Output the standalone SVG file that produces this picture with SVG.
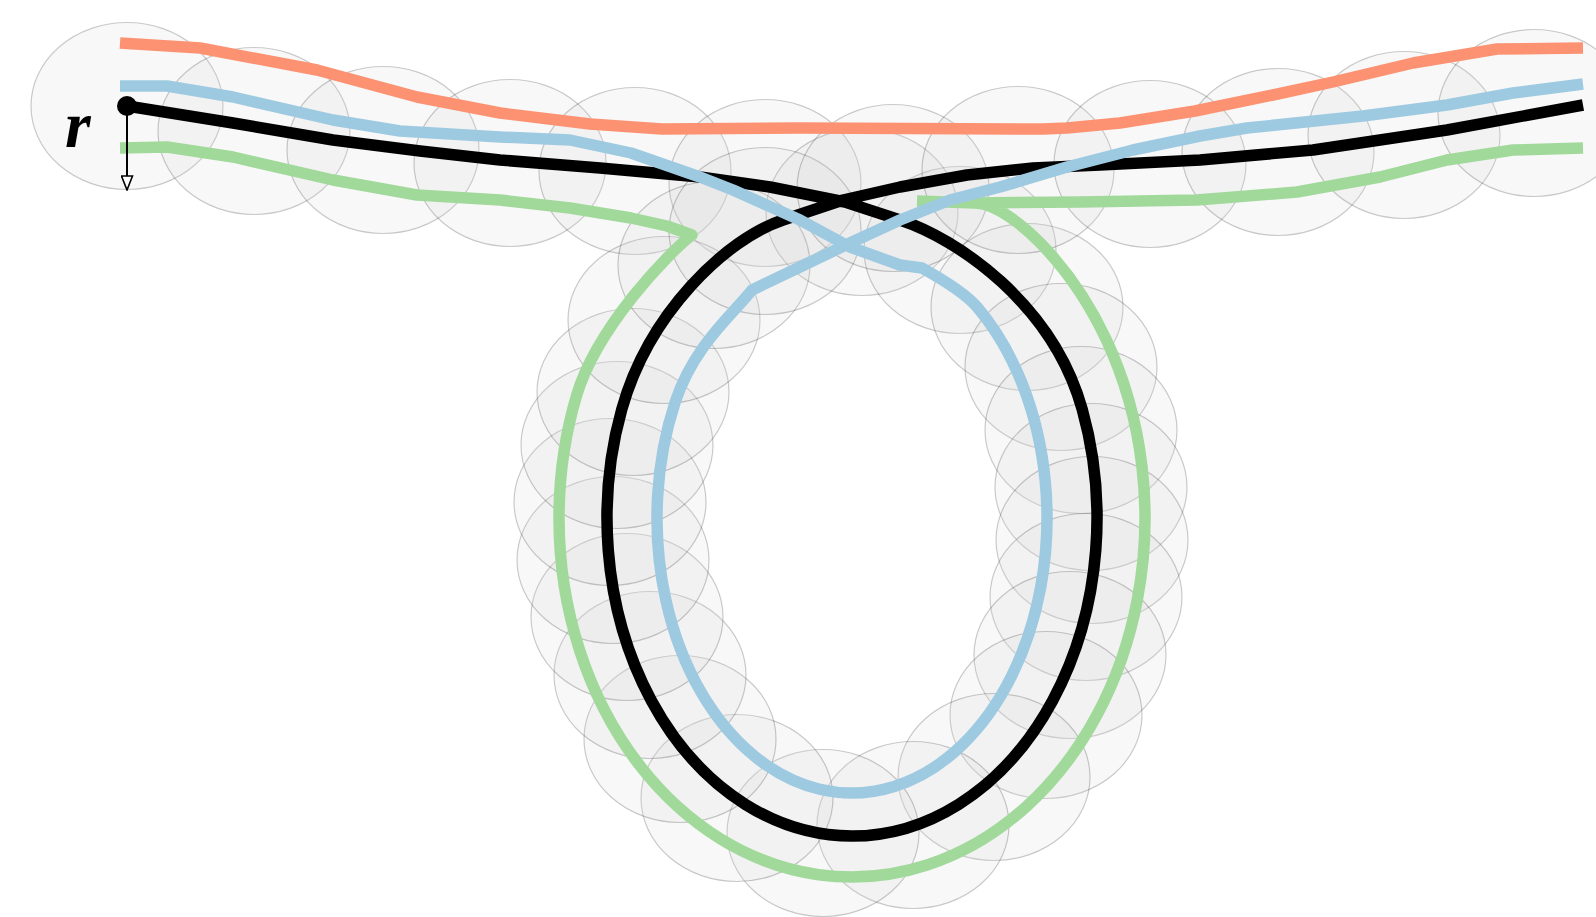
<svg xmlns="http://www.w3.org/2000/svg" width="1596" height="917" viewBox="0 0 1596 917">
<style>
.c{fill:#d3d3d3;fill-opacity:0.17;stroke:#000;stroke-opacity:0.2;stroke-width:1.2}
.ln{fill:none;stroke-width:11.5;stroke-linejoin:round;stroke-linecap:butt}
</style>
<defs>
<marker id="ah" viewBox="-1 -1 16 13" refX="14" refY="5.5" markerWidth="16" markerHeight="13" markerUnits="userSpaceOnUse" orient="auto">
<path d="M0,0 L14,5.5 L0,11 Z" fill="#fff" stroke="#000" stroke-width="1.6" stroke-linejoin="miter"/>
</marker>
</defs>
<rect width="1596" height="917" fill="#fff"/>
<g id="tube">
<ellipse class="c" cx="127" cy="106" rx="96" ry="83.5"/>
<ellipse class="c" cx="254" cy="131" rx="96" ry="83.5"/>
<ellipse class="c" cx="383" cy="150" rx="96" ry="83.5"/>
<ellipse class="c" cx="510" cy="163" rx="96" ry="83.5"/>
<ellipse class="c" cx="635" cy="171" rx="96" ry="83.5"/>
<ellipse class="c" cx="765" cy="183" rx="96" ry="83.5"/>
<ellipse class="c" cx="862" cy="212" rx="96" ry="83.5"/>
<ellipse class="c" cx="960" cy="250" rx="96" ry="83.5"/>
<ellipse class="c" cx="1027" cy="307" rx="96" ry="83.5"/>
<ellipse class="c" cx="1061" cy="367" rx="96" ry="83.5"/>
<ellipse class="c" cx="1081" cy="430" rx="96" ry="83.5"/>
<ellipse class="c" cx="1091" cy="487" rx="96" ry="83.5"/>
<ellipse class="c" cx="1092" cy="540" rx="96" ry="83.5"/>
<ellipse class="c" cx="1086" cy="597" rx="96" ry="83.5"/>
<ellipse class="c" cx="1070" cy="655" rx="96" ry="83.5"/>
<ellipse class="c" cx="1046" cy="715" rx="96" ry="83.5"/>
<ellipse class="c" cx="994" cy="777" rx="96" ry="83.5"/>
<ellipse class="c" cx="913" cy="825" rx="96" ry="83.5"/>
<ellipse class="c" cx="823" cy="833" rx="96" ry="83.5"/>
<ellipse class="c" cx="737" cy="798" rx="96" ry="83.5"/>
<ellipse class="c" cx="680" cy="739" rx="96" ry="83.5"/>
<ellipse class="c" cx="650" cy="675" rx="96" ry="83.5"/>
<ellipse class="c" cx="627" cy="617" rx="96" ry="83.5"/>
<ellipse class="c" cx="613" cy="560" rx="96" ry="83.5"/>
<ellipse class="c" cx="610" cy="502" rx="96" ry="83.5"/>
<ellipse class="c" cx="617" cy="445" rx="96" ry="83.5"/>
<ellipse class="c" cx="633" cy="392" rx="96" ry="83.5"/>
<ellipse class="c" cx="664" cy="320" rx="96" ry="83.5"/>
<ellipse class="c" cx="714" cy="265" rx="96" ry="83.5"/>
<ellipse class="c" cx="765" cy="231" rx="96" ry="83.5"/>
<ellipse class="c" cx="893" cy="188" rx="96" ry="83.5"/>
<ellipse class="c" cx="1018" cy="170" rx="96" ry="83.5"/>
<ellipse class="c" cx="1150" cy="164" rx="96" ry="83.5"/>
<ellipse class="c" cx="1278" cy="152" rx="96" ry="83.5"/>
<ellipse class="c" cx="1404" cy="135" rx="96" ry="83.5"/>
<ellipse class="c" cx="1534" cy="113" rx="96" ry="83.5"/>
</g>
<g id="curves">
<path id="black" class="ln" stroke="#000" d="M127,106 L233,123 L333,140 L420,151 L500,160 L600,168 L700,177 L770,187 L845,202 L900,220 C957,238.6 1052.5,303.3 1082.2,409.2 A245,318 0 1 1 621.8,409.2 C648.8,312.9 726.1,239 783,220 L843,200 L900,187 L967,175 L1033,168 L1100,165 L1200,160 L1313,150 L1447,130 L1583,105"/>
<path id="green" class="ln" stroke="#a1d99b" d="M120,148 L167,147 L233,157 L333,180 L417,195 L500,200 L570,208 L631,218 L667,226 L692,235 C668,253 596.7,328.1 576.7,395.2 A293,359 0 1 0 1040.3,243 C1022.9,225.1 995,203 975,203 L917,201 M975,203 L1080,202 L1197,200 L1297,192 L1380,177 L1447,160 L1513,150 L1583,148"/>
<path id="orange" class="ln" stroke="#fc9272" d="M120,43 L200,48 L317,70 L417,97 L500,113 L590,124 L662,129 L800,128 L1043,129 L1067,128 L1120,123 L1195,111 L1273,95 L1333,82 L1413,63 L1497,49 L1583,48"/>
<path id="blue" class="ln" stroke="#9ecae1" d="M120,86 L167,86 L233,97 L333,120 L400,131 L500,137 L570,140 L631,153 L700,177 L733,190 L800,220 L850,247 L900,265 L922,268 C940,278 964.4,292 977.3,307.3 A195,275 0 1 1 675.3,401.7 C694.1,344.8 735,312 752,290 L800,267 L850,243 L900,220 L950,200 L1000,187 L1067,167 L1133,150 L1200,136 L1247,128 L1363,116 L1447,105 L1513,93 L1583,84"/>
</g>
<g id="radius">
<line x1="127" y1="106" x2="127" y2="190" stroke="#000" stroke-width="2" marker-end="url(#ah)"/>
<circle cx="127" cy="106" r="10" fill="#000"/>
<text x="65" y="147" font-family="Liberation Serif, serif" font-style="italic" font-weight="bold" font-size="66" fill="#000">r</text>
</g>
</svg>
